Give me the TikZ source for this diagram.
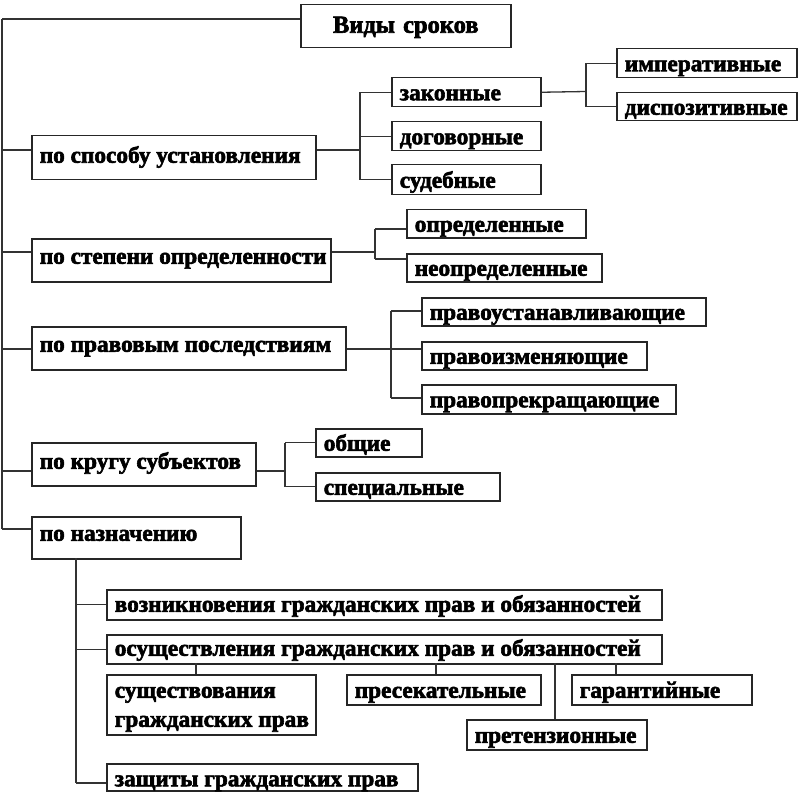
\documentclass[tikz,border=0pt]{standalone}
\usepackage{fontspec}
\setmainfont{Liberation Serif}[BoldFeatures={FakeBold=2.5}]
\begin{document}
\begin{tikzpicture}[x=1pt,y=-1pt,
  box/.style={draw=black!85,line width=1.5pt,inner xsep=8pt,inner ysep=0pt,
    anchor=north west,align=flush left,
    font=\bfseries\fontsize{23.3}{29}\selectfont,text=black},
  dy/.style={text height=#1pt,text depth=0pt},
  conn/.style={draw=black!80,line width=1.3pt}]
\useasboundingbox (0,0) rectangle (800,802);
\newcommand\bx[7][]{%
  \pgfmathsetmacro\bw{#5-#3-16}\pgfmathsetmacro\bh{#6-#4}%
  \node[box,text width=\bw pt,minimum height=\bh pt,#1] (#2) at (#3,#4) {\mbox{#7}};}
% boxes
\bx[align=center,dy=13,font=\bfseries\fontsize{24.5}{29}\selectfont]{title}{300}{4}{510}{47}{Виды сроков}
\bx[dy=10]{s1}{31}{135}{315}{179}{по способу установления}
\bx[dy=16]{zak}{391}{77}{540}{106}{законные}
\bx[dy=16]{dog}{391}{121}{540}{150}{договорные}
\bx[dy=16]{sud}{391}{164}{540}{194}{судебные}
\bx[dy=16]{imp}{616}{48}{796}{77}{императивные}
\bx[dy=16]{disp}{616}{92}{796}{120}{диспозитивные}
\bx[dy=7]{s2}{31}{238}{330}{281}{по степени определенности}
\bx[dy=16]{opr}{406}{209}{585}{237}{определенные}
\bx[dy=16]{neopr}{406}{253}{601}{281}{неопределенные}
\bx[dy=7]{s3}{31}{326}{345}{369}{по правовым последствиям}
\bx[dy=16]{pu}{421}{297}{705}{325}{правоустанавливающие}
\bx[dy=16]{pi}{421}{341}{646}{369}{правоизменяющие}
\bx[dy=16]{pp}{421}{384}{675}{413}{правопрекращающие}
\bx[dy=9]{s4}{31}{442}{255}{485}{по кругу субъектов}
\bx[dy=16]{ob}{315}{428}{421}{456}{общие}
\bx[dy=16]{sp}{315}{472}{499}{500}{специальные}
\bx[dy=6]{s5}{31}{516}{240}{558}{по назначению}
\bx[dy=14]{voz}{106}{589}{661}{619}{возникновения гражданских прав и обязанностей}
\bx[dy=13]{osu}{106}{634}{661}{663}{осуществления гражданских прав и обязанностей}
\node[box,text width=193pt,minimum height=60pt,text height=15pt,text depth=29pt]
  (sus) at (106,674) {\mbox{существования}\\\mbox{гражданских прав}};
\bx[dy=16]{pres}{346}{674}{540}{704}{пресекательные}
\bx[dy=16]{gar}{571}{674}{751}{704}{гарантийные}
\bx[dy=16]{pret}{466}{719}{646}{749}{претензионные}
\bx[dy=18]{zas}{106}{763}{417}{790}{защиты гражданских прав}
% coordinates
\coordinate (t0) at (2,19);
\coordinate (t1) at (2,150);
\coordinate (t2) at (2,252);
\coordinate (t3) at (2,349);
\coordinate (t4) at (2,471);
\coordinate (t5) at (2,529);
\coordinate (j1) at (360,150);
\coordinate (j1b) at (586,91.5);
\coordinate (j2) at (375,252);
\coordinate (j2a) at (375,229);
\coordinate (j2b) at (375,259);
\coordinate (j3) at (391,349);
\coordinate (j3a) at (391,311);
\coordinate (j3b) at (391,398);
\coordinate (j4) at (285,471);
\coordinate (kt) at (76,558);
\coordinate (kb) at (76,783);
\coordinate (m1) at (196,663);
\coordinate (m2) at (436,663);
\coordinate (m3) at (555,663);
\coordinate (m4) at (616,663);
% trunk
\draw[conn] (t0) -- (t5);
\draw[conn] (t0) -- (t0 -| title.west);
\draw[conn] (t1) -- (t1 -| s1.west);
\draw[conn] (t2) -- (t2 -| s2.west);
\draw[conn] (t3) -- (t3 -| s3.west);
\draw[conn] (t4) -- (t4 -| s4.west);
\draw[conn] (t5) -- (t5 -| s5.west);
% row 1
\draw[conn] (j1 -| s1.east) -- (j1);
\draw[conn] (j1 |- zak.west) -- (j1 |- sud.west);
\draw[conn] (j1 |- zak.west) -- (zak.west);
\draw[conn] (j1 |- dog.west) -- (dog.west);
\draw[conn] (j1 |- sud.west) -- (sud.west);
\draw[conn] (zak.east) -- (j1b);
\draw[conn] (j1b |- imp.west) -- (j1b |- disp.west);
\draw[conn] (j1b |- imp.west) -- (imp.west);
\draw[conn] (j1b |- disp.west) -- (disp.west);
% row 2
\draw[conn] (j2 -| s2.east) -- (j2);
\draw[conn] (j2a) -- (j2b);
\draw[conn] (j2a) -- (j2a -| opr.west);
\draw[conn] (j2b) -- (j2b -| neopr.west);
% row 3
\draw[conn] (j3 -| s3.east) -- (j3 -| pi.west);
\draw[conn] (j3a) -- (j3b);
\draw[conn] (j3a) -- (j3a -| pu.west);
\draw[conn] (j3b) -- (j3b -| pp.west);
% row 4
\draw[conn] (j4 -| s4.east) -- (j4);
\draw[conn] (j4 |- ob.west) -- (j4 |- sp.west);
\draw[conn] (j4 |- ob.west) -- (ob.west);
\draw[conn] (j4 |- sp.west) -- (sp.west);
% row 5
\draw[conn] (kt) -- (kb);
\draw[conn] (kt |- voz.west) -- (voz.west);
\draw[conn] (kt |- osu.west) -- (osu.west);
\draw[conn] (kb) -- (kb -| zas.west);
\draw[conn] (m1) -- (m1 |- sus.north);
\draw[conn] (m2) -- (m2 |- pres.north);
\draw[conn] (m3) -- (m3 |- pret.north);
\draw[conn] (m4) -- (m4 |- gar.north);
\end{tikzpicture}
\end{document}
